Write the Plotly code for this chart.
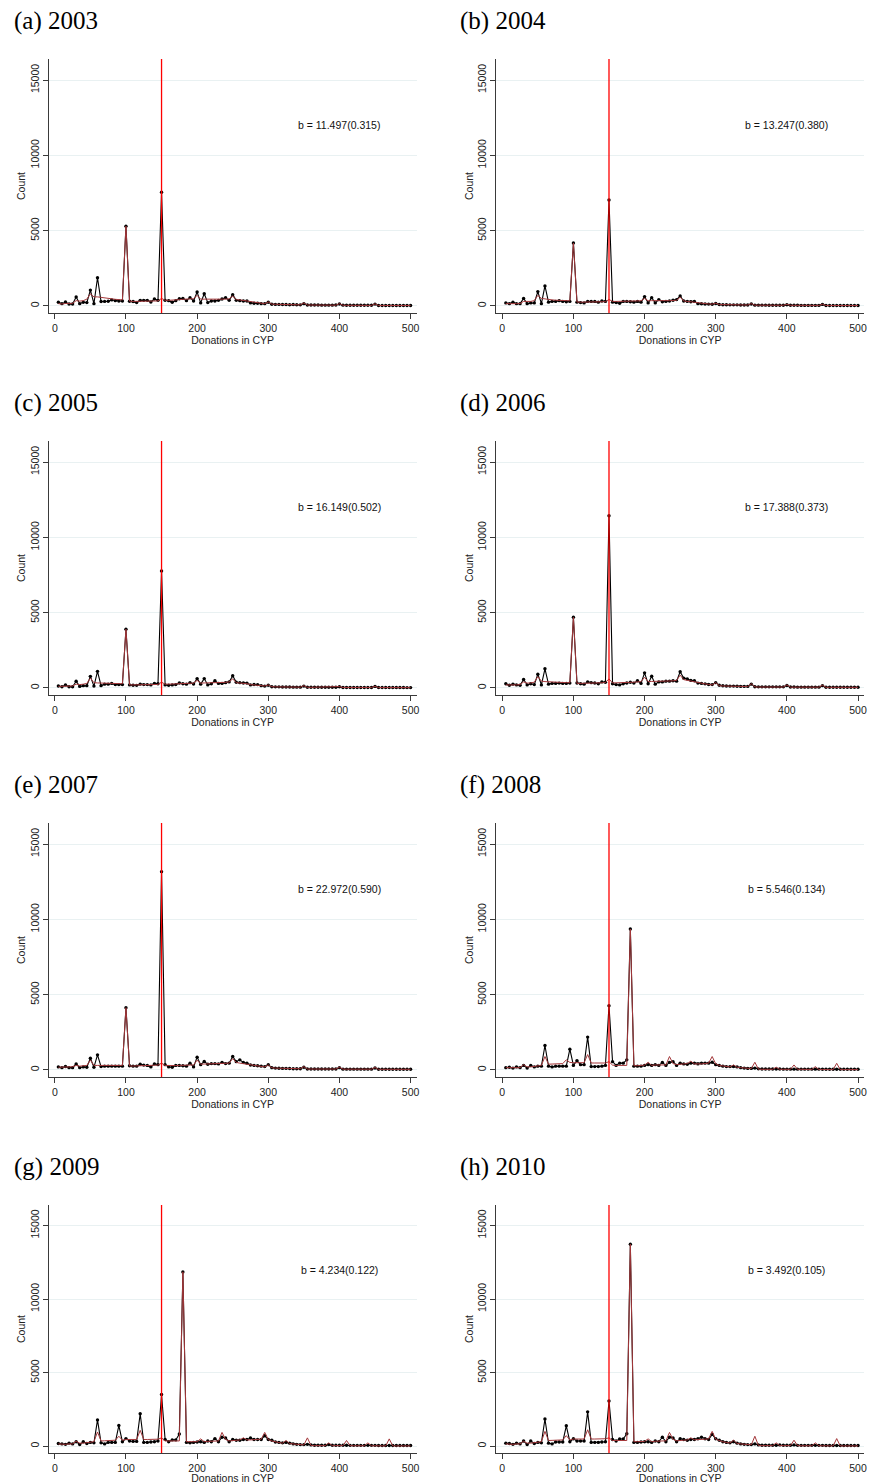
import plotly.graph_objects as go

# ---------------- data ----------------
donations = list(range(5, 505, 5))          # 5, 10, ..., 500
years = ["2003", "2004", "2005", "2006", "2007", "2008", "2009", "2010"]
letters = ["a", "b", "c", "d", "e", "f", "g", "h"]
b_labels = ["b = 11.497(0.315)", "b = 13.247(0.380)", "b = 16.149(0.502)",
            "b = 17.388(0.373)", "b = 22.972(0.590)", "b = 5.546(0.134)",
            "b = 4.234(0.122)", "b = 3.492(0.105)"]
threshold = 150
label_pos = (400, 12000)
y_ticks = [0, 5000, 10000, 15000]
y_tick_text = ["0", "5000", "10000", "15000"]
x_ticks = [0, 100, 200, 300, 400, 500]
x_tick_text = ["0", "100", "200", "300", "400", "500"]

obs_2003 = [240, 150, 260, 130, 130, 600, 150, 240, 220, 1050,
            150, 1870, 290, 300, 310, 400, 350, 330, 330, 5300,
            310, 290, 220, 370, 370, 370, 260, 460, 370, 7550,
            370, 350, 240, 350, 480, 500, 350, 550, 330, 920,
            200, 810, 220, 330, 330, 370, 460, 550, 370, 750,
            370, 350, 330, 330, 200, 180, 180, 150, 150, 240,
            110, 100, 100, 90, 90, 80, 90, 80, 70, 150,
            60, 60, 60, 60, 50, 50, 50, 50, 60, 130,
            50, 40, 40, 40, 40, 40, 40, 40, 40, 120,
            30, 30, 30, 30, 30, 30, 30, 30, 30, 30]
fit_2003 = [150, 130, 160, 150, 170, 350, 320, 350, 450, 800,
            600, 600, 560, 540, 520, 480, 440, 420, 400, 5300,
            320, 300, 300, 300, 300, 300, 300, 310, 330, 500,
            380, 370, 370, 390, 420, 440, 450, 460, 480, 700,
            450, 450, 440, 440, 440, 440, 450, 450, 470, 650,
            420, 400, 360, 330, 260, 220, 200, 170, 150, 260,
            120, 110, 100, 100, 90, 90, 80, 80, 70, 200,
            60, 60, 55, 55, 50, 50, 50, 50, 50, 150,
            45, 40, 40, 40, 40, 40, 40, 40, 35, 140,
            30, 30, 30, 30, 30, 30, 30, 30, 30, 30]

obs_2004 = [200, 150, 250, 150, 150, 500, 150, 200, 200, 950,
            150, 1330, 250, 300, 300, 350, 300, 280, 300, 4180,
            250, 220, 200, 300, 300, 300, 250, 330, 300, 7040,
            250, 220, 180, 300, 300, 280, 250, 300, 250, 620,
            200, 550, 200, 420, 280, 300, 330, 380, 420, 660,
            330, 300, 280, 300, 150, 140, 130, 120, 110, 160,
            90, 80, 80, 70, 70, 70, 60, 60, 60, 130,
            50, 50, 50, 50, 45, 45, 45, 45, 45, 80,
            40, 40, 40, 35, 35, 35, 35, 35, 35, 100,
            30, 30, 30, 30, 30, 30, 30, 30, 25, 25]
fit_2004 = [150, 130, 150, 150, 160, 300, 280, 300, 350, 700,
            500, 450, 420, 400, 380, 370, 360, 350, 340, 4180,
            260, 250, 250, 260, 260, 260, 260, 270, 280, 430,
            300, 300, 300, 300, 310, 320, 320, 330, 340, 500,
            340, 350, 340, 340, 340, 340, 350, 360, 380, 580,
            330, 300, 270, 240, 180, 150, 140, 130, 120, 180,
            90, 80, 80, 70, 70, 70, 60, 60, 60, 150,
            50, 50, 45, 45, 45, 45, 45, 45, 45, 100,
            40, 40, 40, 35, 35, 35, 35, 35, 35, 110,
            30, 30, 30, 30, 30, 30, 30, 30, 25, 25]

obs_2005 = [130, 80, 200, 80, 80, 440, 100, 150, 150, 770,
            120, 1100, 150, 250, 250, 300, 220, 220, 220, 3900,
            200, 180, 170, 250, 220, 220, 200, 300, 280, 7770,
            200, 180, 200, 220, 330, 280, 250, 350, 260, 620,
            250, 620, 200, 280, 480, 300, 300, 350, 400, 810,
            380, 350, 330, 320, 200, 230, 220, 150, 120, 180,
            80, 70, 70, 60, 60, 60, 50, 50, 50, 120,
            40, 40, 40, 40, 40, 40, 40, 40, 40, 80,
            30, 30, 30, 30, 30, 30, 30, 30, 30, 100,
            25, 25, 25, 25, 25, 25, 25, 25, 20, 20]
fit_2005 = [100, 100, 120, 120, 130, 250, 220, 250, 300, 650,
            350, 330, 320, 310, 300, 290, 280, 280, 280, 3900,
            200, 200, 200, 210, 210, 210, 210, 220, 230, 380,
            250, 250, 260, 270, 280, 290, 300, 310, 320, 500,
            320, 330, 330, 340, 350, 350, 360, 370, 400, 600,
            350, 330, 300, 280, 220, 200, 190, 160, 130, 200,
            80, 70, 70, 60, 60, 60, 50, 50, 50, 150,
            40, 40, 40, 40, 40, 40, 40, 40, 40, 90,
            30, 30, 30, 30, 30, 30, 30, 30, 30, 110,
            25, 25, 25, 25, 25, 25, 25, 25, 20, 20]

obs_2006 = [280, 180, 250, 200, 180, 560, 200, 280, 220, 910,
            200, 1270, 250, 300, 300, 320, 300, 300, 320, 4690,
            330, 280, 250, 400, 350, 330, 280, 400, 380, 11440,
            280, 220, 200, 280, 330, 380, 320, 480, 300, 1000,
            280, 780, 250, 400, 400, 450, 450, 480, 450, 1070,
            650, 600, 500, 480, 320, 300, 270, 230, 220, 350,
            180, 140, 130, 120, 120, 110, 100, 100, 100, 250,
            80, 70, 70, 70, 70, 70, 70, 70, 70, 160,
            60, 60, 50, 50, 50, 50, 50, 50, 50, 150,
            40, 40, 40, 40, 40, 40, 40, 40, 40, 40]
fit_2006 = [200, 180, 200, 200, 220, 400, 320, 330, 380, 750,
            450, 420, 400, 390, 380, 370, 360, 350, 350, 4690,
            300, 300, 300, 310, 310, 320, 330, 340, 360, 600,
            330, 330, 340, 350, 360, 370, 380, 400, 420, 700,
            420, 430, 430, 440, 450, 450, 460, 470, 500, 850,
            550, 500, 450, 400, 330, 300, 270, 230, 200, 350,
            150, 130, 120, 110, 100, 100, 90, 90, 90, 280,
            70, 60, 60, 60, 60, 60, 60, 60, 60, 200,
            50, 50, 50, 50, 50, 50, 50, 50, 50, 180,
            40, 40, 40, 40, 40, 40, 40, 40, 40, 40]

obs_2007 = [200, 150, 230, 150, 150, 400, 150, 200, 180, 780,
            180, 1000, 220, 250, 250, 250, 250, 250, 250, 4130,
            280, 250, 250, 380, 320, 300, 200, 400, 350, 13170,
            350, 200, 180, 300, 300, 280, 250, 450, 200, 850,
            350, 560, 380, 420, 420, 400, 500, 420, 450, 890,
            550, 670, 500, 450, 330, 300, 280, 250, 220, 350,
            150, 120, 110, 100, 100, 90, 80, 80, 80, 180,
            60, 60, 60, 60, 60, 60, 60, 60, 60, 150,
            50, 50, 50, 50, 50, 50, 50, 50, 50, 130,
            40, 40, 40, 40, 40, 40, 40, 40, 40, 40]
fit_2007 = [180, 170, 190, 200, 210, 300, 250, 260, 300, 650,
            300, 300, 300, 300, 300, 300, 300, 300, 300, 4130,
            260, 260, 260, 270, 280, 290, 300, 310, 320, 450,
            300, 280, 280, 290, 300, 300, 310, 320, 330, 650,
            380, 390, 400, 400, 400, 400, 410, 420, 450, 750,
            500, 450, 420, 380, 330, 300, 270, 240, 200, 330,
            140, 120, 110, 100, 100, 90, 80, 80, 80, 220,
            60, 60, 60, 60, 60, 60, 60, 60, 60, 180,
            50, 50, 50, 50, 50, 50, 50, 50, 50, 160,
            40, 40, 40, 40, 40, 40, 40, 40, 40, 40]

obs_2008 = [150, 180, 120, 200, 150, 300, 120, 300, 200, 250,
            250, 1620, 250, 200, 250, 250, 250, 250, 1380, 300,
            620, 350, 350, 2180, 220, 220, 220, 250, 300, 4270,
            550, 300, 450, 450, 670, 9360, 250, 250, 250, 300,
            350, 300, 350, 300, 500, 300, 500, 550, 300, 450,
            400, 380, 450, 450, 400, 450, 450, 450, 510, 350,
            300, 250, 220, 220, 230, 200, 150, 120, 100, 100,
            120, 70, 60, 60, 60, 60, 60, 60, 50, 50,
            50, 50, 50, 50, 50, 50, 50, 50, 50, 40,
            40, 40, 40, 40, 40, 40, 40, 40, 40, 40]
fit_2008 = [150, 150, 130, 150, 150, 350, 200, 200, 250, 280,
            300, 890, 380, 390, 400, 410, 420, 670, 500, 480,
            480, 480, 480, 1020, 460, 460, 460, 460, 460, 550,
            320, 300, 300, 300, 300, 9360, 280, 280, 280, 320,
            510, 300, 330, 330, 360, 330, 890, 420, 350, 400,
            400, 420, 580, 400, 380, 400, 420, 450, 890, 400,
            300, 250, 220, 200, 330, 180, 150, 120, 100, 90,
            510, 50, 40, 40, 40, 40, 180, 40, 40, 40,
            40, 330, 40, 40, 30, 30, 30, 220, 30, 30,
            20, 20, 20, 440, 20, 20, 20, 20, 20, 20]

obs_2009 = [180, 150, 120, 200, 150, 300, 100, 300, 180, 250,
            220, 1780, 220, 150, 250, 250, 250, 1400, 300, 510,
            350, 320, 320, 2200, 250, 250, 280, 300, 350, 3510,
            450, 300, 420, 420, 820, 11850, 250, 220, 250, 280,
            300, 250, 350, 300, 510, 300, 600, 550, 300, 450,
            400, 400, 450, 450, 550, 450, 450, 450, 700, 450,
            400, 280, 250, 220, 250, 200, 150, 120, 100, 100,
            120, 80, 60, 60, 60, 60, 100, 60, 60, 60,
            60, 60, 50, 50, 50, 50, 50, 50, 50, 50,
            40, 40, 40, 40, 40, 40, 40, 40, 40, 40]
fit_2009 = [150, 130, 120, 150, 150, 330, 200, 200, 250, 280,
            300, 960, 350, 360, 370, 380, 400, 670, 400, 450,
            450, 450, 450, 1070, 450, 450, 450, 460, 470, 560,
            350, 350, 350, 350, 350, 11850, 300, 300, 300, 300,
            490, 300, 320, 330, 350, 350, 930, 450, 350, 380,
            400, 420, 560, 420, 420, 430, 450, 470, 930, 450,
            350, 280, 240, 200, 380, 170, 140, 110, 90, 80,
            560, 40, 30, 30, 30, 30, 220, 30, 30, 30,
            30, 380, 30, 20, 20, 20, 20, 220, 20, 20,
            10, 10, 10, 490, 10, 10, 10, 10, 10, 10]

obs_2010 = [200, 180, 120, 200, 150, 350, 100, 350, 180, 250,
            220, 1840, 200, 150, 280, 280, 280, 1380, 300, 500,
            350, 350, 350, 2330, 250, 250, 250, 280, 300, 3070,
            450, 350, 480, 480, 840, 13730, 250, 250, 280, 300,
            300, 250, 350, 300, 600, 300, 600, 550, 300, 500,
            450, 400, 450, 450, 500, 600, 500, 450, 800, 500,
            400, 300, 250, 220, 300, 200, 150, 120, 100, 100,
            150, 80, 60, 60, 60, 60, 60, 80, 60, 60,
            60, 80, 50, 50, 50, 50, 50, 50, 50, 50,
            40, 40, 40, 40, 40, 40, 40, 40, 40, 40]
fit_2010 = [150, 130, 120, 150, 150, 330, 200, 200, 250, 280,
            300, 1000, 380, 390, 400, 410, 420, 710, 420, 480,
            480, 480, 480, 1110, 480, 480, 480, 490, 500, 560,
            380, 380, 380, 380, 380, 13730, 300, 300, 300, 320,
            490, 300, 330, 340, 360, 360, 930, 460, 360, 400,
            400, 420, 560, 430, 430, 450, 470, 490, 1000, 470,
            360, 290, 250, 210, 400, 180, 150, 120, 100, 90,
            670, 40, 30, 30, 30, 30, 220, 30, 30, 30,
            30, 400, 30, 20, 20, 20, 20, 220, 20, 20,
            10, 10, 10, 510, 10, 10, 10, 10, 10, 10]

observed = [obs_2003, obs_2004, obs_2005, obs_2006, obs_2007, obs_2008, obs_2009, obs_2010]
fitted = [fit_2003, fit_2004, fit_2005, fit_2006, fit_2007, fit_2008, fit_2009, fit_2010]

# ---------------- layout geometry (pixels) ----------------
W, H = 872, 1484
col_left = [49, 498]
col_right = [418, 867]
row_top = [59, 441, 823, 1205]
row_h = [254, 254, 254, 248]
title_left = [12, 460]
title_y = [21, 403, 785, 1167]

x_range = [-8.4, 508.4]
y_range = [-470, 16400]

SANS = "Liberation Sans"
SERIF = "Liberation Serif"
FIT_COLOR = "#a3373a"
GRID_COLOR = "#e9f1f2"
AXIS_COLOR = "#3a3a3a"

fig = go.Figure()
layout = dict(
    width=W, height=H, margin=dict(l=0, r=0, t=0, b=0),
    paper_bgcolor="white", plot_bgcolor="white", showlegend=False,
    font=dict(family=SANS, size=10.5, color="#222222"),
)
annotations = []
shapes = []

for i in range(8):
    r, c = divmod(i, 2)
    sfx = "" if i == 0 else str(i + 1)
    xa, ya = "x" + sfx, "y" + sfx
    x0, x1 = col_left[c] / W, col_right[c] / W
    y1 = 1 - row_top[r] / H
    y0 = 1 - (row_top[r] + row_h[r]) / H

    fig.add_trace(go.Scatter(
        x=donations, y=observed[i], mode="lines+markers",
        line=dict(color="black", width=1.1),
        marker=dict(color="black", size=3.4, symbol="circle"),
        xaxis=xa, yaxis=ya))
    fig.add_trace(go.Scatter(
        x=donations, y=fitted[i], mode="lines",
        line=dict(color=FIT_COLOR, width=1), xaxis=xa, yaxis=ya,
        hoverinfo="skip"))

    layout["xaxis" + sfx] = dict(
        domain=[x0, x1], anchor=ya, range=x_range,
        tickmode="array", tickvals=x_ticks, ticktext=x_tick_text,
        ticks="outside", ticklen=5,
        tickcolor=AXIS_COLOR, showline=True, linecolor=AXIS_COLOR, linewidth=1.2,
        showgrid=False, zeroline=False,
        tickfont=dict(family=SANS, size=10.5, color="#222222"),
        title=dict(text="Donations in CYP", standoff=0,
                   font=dict(family=SANS, size=10.5, color="#222222")),
    )
    layout["yaxis" + sfx] = dict(
        domain=[y0, y1], anchor=xa, range=y_range,
        tickmode="array", tickvals=y_ticks, ticktext=y_tick_text,
        ticks="outside", ticklen=5,
        tickcolor=AXIS_COLOR, showline=True, linecolor=AXIS_COLOR, linewidth=1.2,
        showgrid=True, gridcolor=GRID_COLOR, gridwidth=1, zeroline=False,
        tickangle=-90,
        tickfont=dict(family=SANS, size=10.5, color="#222222"),
        title=dict(text="Count", standoff=0,
                   font=dict(family=SANS, size=10.5, color="#222222")),
    )

    shapes.append(dict(type="line", xref=xa, yref=ya + " domain",
                       x0=threshold, x1=threshold, y0=0, y1=1,
                       line=dict(color="#ff0000", width=1.3), layer="above"))

    annotations.append(dict(
        x=label_pos[0], y=label_pos[1], xref=xa, yref=ya, text=b_labels[i],
        showarrow=False, xanchor="center", yanchor="middle",
        font=dict(family=SANS, size=10.5, color="#111111")))
    annotations.append(dict(
        x=title_left[c] / W, y=1 - title_y[r] / H, xref="paper", yref="paper",
        text="(" + letters[i] + ") " + years[i], showarrow=False,
        xanchor="left", yanchor="middle",
        font=dict(family=SERIF, size=25, color="black")))

layout["annotations"] = annotations
layout["shapes"] = shapes
fig.update_layout(**layout)
fig.write_html(
    "out.html",
    config={"displayModeBar": False},
    post_script="document.body.style.margin='0';"
                "document.body.style.padding='0';"
                "document.documentElement.style.overflow='hidden';",
)
